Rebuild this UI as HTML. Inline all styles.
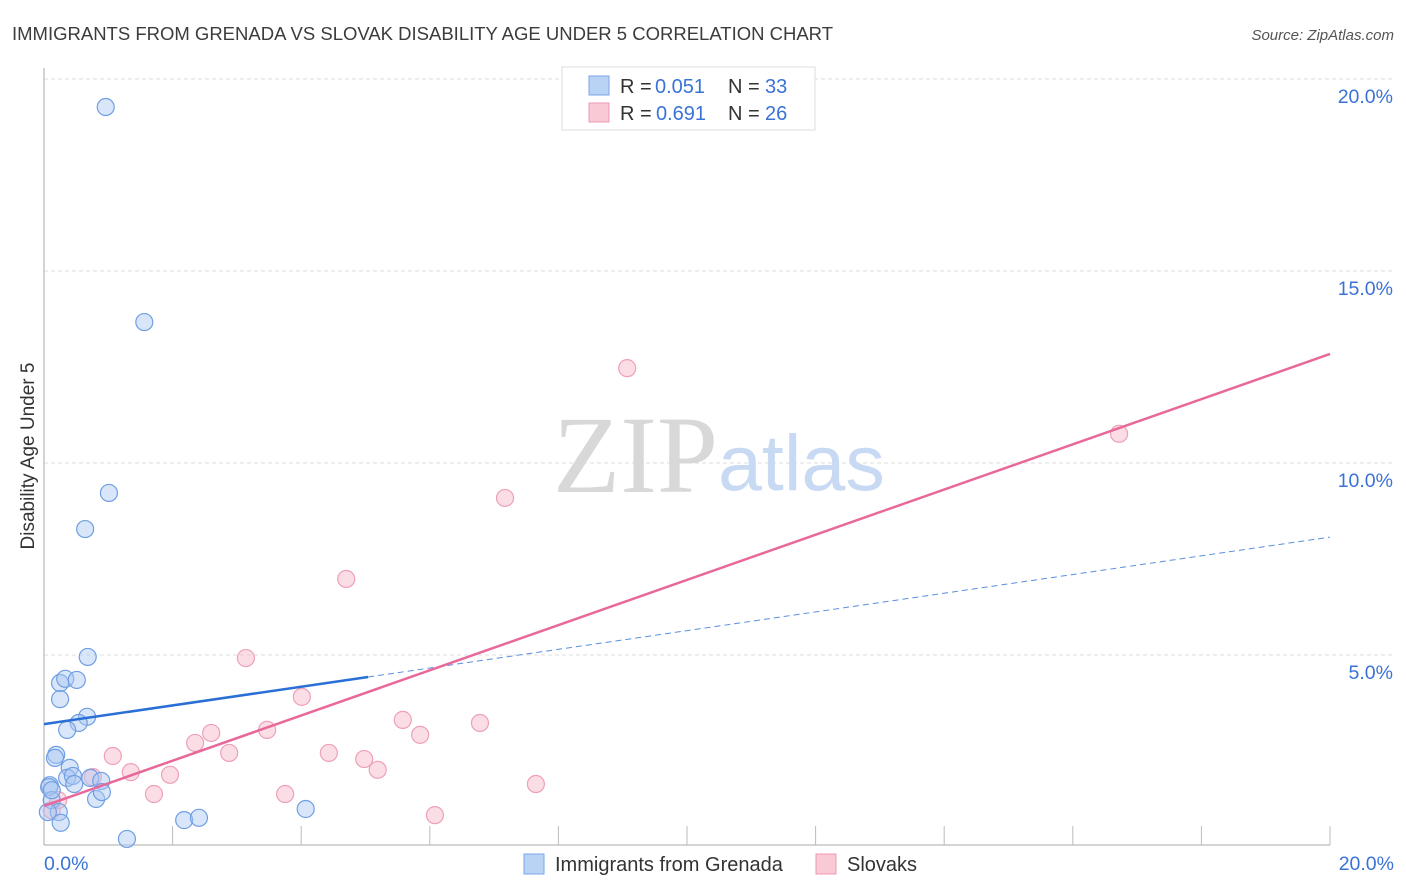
<!DOCTYPE html>
<html><head><meta charset="utf-8"><style>
body{margin:0;background:#fff;font-family:"Liberation Sans",sans-serif}
</style></head><body>
<svg width="1406" height="892" style="display:block">
<text x="12" y="40" font-size="18.5" fill="#3c3c3c">IMMIGRANTS FROM GRENADA VS SLOVAK DISABILITY AGE UNDER 5 CORRELATION CHART</text>
<text x="1394" y="40" font-size="15" fill="#555" font-style="italic" text-anchor="end">Source: ZipAtlas.com</text>
<text transform="translate(34,456) rotate(-90)" font-size="19" fill="#333" text-anchor="middle">Disability Age Under 5</text>
<g id="grid"></g>
<text x="553" y="492" font-size="110" fill="#d8d8d8" font-family="Liberation Serif,serif">ZIP</text>
<text x="718" y="490" font-size="79" fill="#c8daf3">atlas</text>
<g id="pts"></g>
<g id="lines"></g>
<g>
<rect x="562" y="67" width="253" height="63" fill="#fff" stroke="#ddd"/>
<rect x="589" y="76" width="20" height="19" fill="#b9d3f5" stroke="#7aa6e6"/>
<rect x="589" y="103" width="20" height="19" fill="#f9c9d6" stroke="#ee98b2"/>
<text x="620" y="93" font-size="20" fill="#333">R =</text><text x="655" y="93" font-size="20" fill="#3a73d6">0.051</text>
<text x="728" y="93" font-size="20" fill="#333">N =</text><text x="765" y="93" font-size="20" fill="#3a73d6">33</text>
<text x="620" y="120" font-size="20" fill="#333">R =</text><text x="656" y="120" font-size="20" fill="#3a73d6">0.691</text>
<text x="728" y="120" font-size="20" fill="#333">N =</text><text x="765" y="120" font-size="20" fill="#3a73d6">26</text>
</g>
<rect x="524" y="854" width="20" height="20" fill="#b9d3f5" stroke="#7aa6e6"/>
<text x="555" y="871" font-size="20" fill="#333">Immigrants from Grenada</text>
<rect x="816" y="854" width="20" height="20" fill="#f9c9d6" stroke="#ee98b2"/>
<text x="847" y="871" font-size="20" fill="#333">Slovaks</text>
</svg>
<script>
const yTicks=[5,10,15,20];
const xTickLabels=["0.0%","20.0%"];
const blueX=[0.96,1.56,1.01,0.64,0.68,0.25,0.33,0.51,0.25,0.67,0.54,0.36,0.19,0.17,0.40,0.36,0.45,0.72,0.89,0.47,0.09,0.08,0.12,0.81,0.90,0.23,0.26,1.29,2.18,2.41,4.07,0.06,0.12];
const blueY=[19.27,13.67,9.22,8.28,4.95,4.27,4.38,4.35,3.85,3.39,3.23,3.05,2.40,2.32,2.06,1.80,1.85,1.80,1.72,1.64,1.61,1.56,1.22,1.25,1.43,0.91,0.63,0.21,0.70,0.76,0.99,0.91,1.48];
const pinkX=[9.07,16.72,7.17,4.70,3.14,4.01,5.58,6.78,3.47,5.85,2.60,2.35,4.43,2.88,4.98,1.07,5.19,1.35,1.96,7.65,0.76,3.75,1.71,6.08,0.22,0.12];
const pinkY=[12.47,10.76,9.09,6.98,4.92,3.91,3.31,3.23,3.05,2.92,2.97,2.71,2.45,2.45,2.29,2.37,2.01,1.95,1.88,1.64,1.82,1.38,1.38,0.83,1.22,0.96];
const blueTrend=[3.20,0.2435];
const pinkTrend=[1.07,0.5885];
const NS="http://www.w3.org/2000/svg";
const sx=v=>44+v*64.3, sy=v=>847-v*38.4;
function mk(t,a,p){const e=document.createElementNS(NS,t);for(const k in a)e.setAttribute(k,a[k]);p.appendChild(e);return e;}
const g=document.getElementById('grid');
yTicks.forEach(t=>{
 const l=mk('line',{x1:44,x2:1394,y1:sy(t),y2:sy(t),stroke:'#ddd','stroke-dasharray':'4,3'},g);
 
 
 const tx=mk('text',{x:1393,y:sy(t)+24,'font-size':19.5,fill:'#3a73d6','text-anchor':'end'},g);
 tx.textContent=t.toFixed(1)+'%';
 
 
});
const ax=mk('line',{x1:44,x2:44,y1:68,y2:845,stroke:'#aaa'},g);


const bx=mk('line',{x1:44,x2:1330,y1:845,y2:845,stroke:'#aaa'},g);


for(let i=1;i<=10;i++){
 const t=mk('line',{x1:sx(i*2),x2:sx(i*2),y1:826,y2:845,stroke:'#bbb'},g);
 
 
}
[[0,'start',44],[20,'end',1394]].forEach((d,i)=>{
 const t=mk('text',{x:d[2],y:870,'font-size':19.5,fill:'#3a73d6','text-anchor':d[1]},g);
 t.textContent=xTickLabels[i];
 
 
});
const p=document.getElementById('pts');
pinkX.forEach((x,i)=>{
 const c=mk('circle',{cx:sx(x),cy:sy(pinkY[i]),r:8.5,fill:'rgba(246,180,200,0.45)',stroke:'#eea0b8','stroke-width':1.2},p);
 
 
});
blueX.forEach((x,i)=>{
 const c=mk('circle',{cx:sx(x),cy:sy(blueY[i]),r:8.5,fill:'rgba(170,200,242,0.45)',stroke:'#6f9fe3','stroke-width':1.2},p);
 
 
});
const L=document.getElementById('lines');
const f=(tr,x)=>tr[0]+tr[1]*x;
const b1=mk('line',{x1:sx(0),y1:sy(f(blueTrend,0)),x2:sx(5.04),y2:sy(f(blueTrend,5.04)),stroke:'#2a6fd6','stroke-width':2.5},L);


const b2=mk('line',{x1:sx(5.04),y1:sy(f(blueTrend,5.04)),x2:sx(20),y2:sy(f(blueTrend,20)),stroke:'#5a8fdd','stroke-width':1,'stroke-dasharray':'6,4'},L);


const p1=mk('line',{x1:sx(0),y1:sy(f(pinkTrend,0)),x2:sx(20),y2:sy(f(pinkTrend,20)),stroke:'#e8689a','stroke-width':2.5},L);


</script>
</body></html>
